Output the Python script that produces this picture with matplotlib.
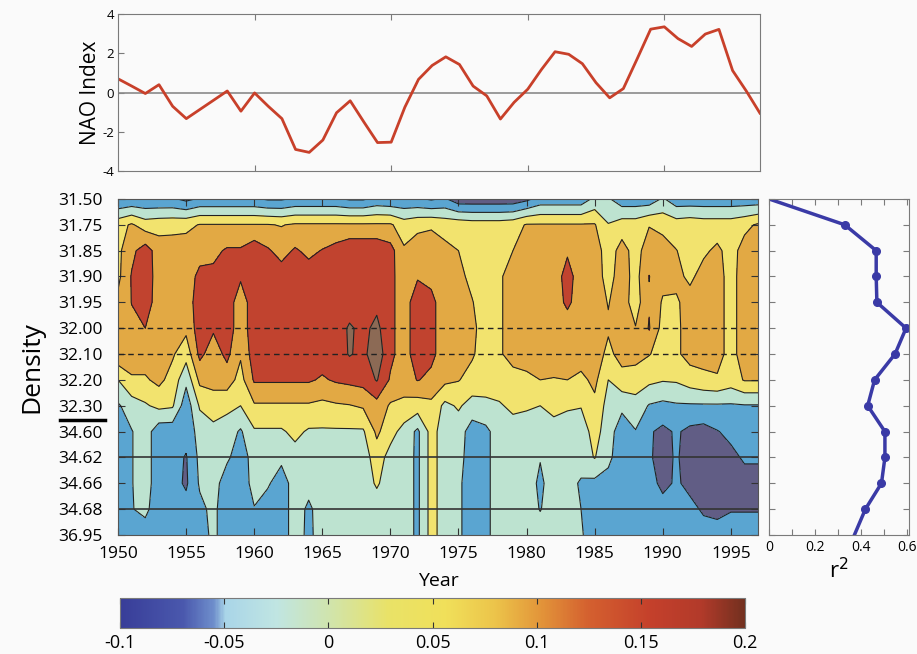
import numpy as np
import matplotlib
matplotlib.use("Agg")
import matplotlib.pyplot as plt
from matplotlib.colors import LinearSegmentedColormap, Normalize
from matplotlib.colorbar import ColorbarBase
import matplotlib.transforms as mtransforms

plt.rcParams['font.family'] = ['Open Sans', 'DejaVu Sans']
plt.rcParams['axes.unicode_minus'] = False

years = np.arange(1950, 1998)

# NAO index, one value per winter
nao = [0.7, 0.33, -0.05, 0.4, -0.7, -1.33, -0.86, -0.39, 0.08, -0.95,
       -0.02, -0.7, -1.33, -2.9, -3.05, -2.42, -1.03, -0.42, -1.5, -2.55,
       -2.53, -0.75, 0.67, 1.38, 1.82, 1.43, 0.33, -0.17, -1.35, -0.5,
       0.17, 1.17, 2.08, 1.95, 1.47, 0.5, -0.27, 0.2, 1.7, 3.23,
       3.35, 2.75, 2.35, 2.98, 3.22, 1.12, 0.08, -1.05]

density_labels = ['31.50', '31.75', '31.85', '31.90', '31.95', '32.00', '32.10',
                  '32.20', '32.30', '34.60', '34.62', '34.66', '34.68', '36.95']

# r^2 at each density level
r2 = [0.0, 0.33, 0.467, 0.467, 0.47, 0.597, 0.549, 0.46, 0.43, 0.505, 0.505, 0.49, 0.42, 0.372]

# correlation (x100), one list per year, top density level first
corr_by_year = [
    [-6, 4.5, 5, 5, 7, 8, 9, 2, -2.5, -4.5, -4.5, -4.5, -4.5, -4.5],            # 1950
    [-5.5, 6.5, 9, 10.3, 10.1, 9, 8, 5.5, 0, -2.2, -2.2, -2.2, -2.2, -2.2],     # 1951
    [-5.5, 4, 12, 12.5, 12, 10, 8, 5.5, 1.5, 0, 0, 0, -1, -4],                  # 1952
    [-5.5, 4.5, 8, 8, 8, 8, 8, 7, 3, -4.5, -4.5, -4.5, -4.5, -4.5],             # 1953
    [-5.5, 4.7, 8, 8, 8, 8, 6.5, 4.5, 2.5, -4.5, -4.5, -4.5, -4.5, -4.5],       # 1954
    [-7, 5, 8, 8, 8, 7, 3.5, -1, -4.5, -4.5, -6.3, -6.6, -4.5, -4.5],           # 1955
    [-5.5, 6.2, 8.5, 11, 12, 12, 11, 7, 2.5, -0.5, -1, -1.5, -3, -4],           # 1956
    [-5.5, 6.2, 9, 11, 11.5, 10.5, 8, 7, 4.5, 0.5, 0, 0, -1, -1],               # 1957
    [-5.5, 6.2, 10.5, 12, 12, 12, 11, 8, 3, 0, -1.2, -4.5, -4.5, -4.5],         # 1958
    [-5.5, 6.2, 10.5, 10.5, 8, 8, 6.5, 4.5, 2, -2.5, -4.5, -4.5, -4.5, -4.5],   # 1959
    [-5.5, 6.2, 12.5, 12, 12, 12, 12, 10.5, 5.5, 1.5, 0, -0.5, -2.2, -4.5],     # 1960
    [-6.5, 6.2, 10.5, 12, 12, 12, 12, 10.5, 5.5, 1.5, 0, -1.5, -4, -4.5],       # 1961
    [-6.5, 5.8, 8.5, 12, 12, 12, 12, 10.5, 5.5, 1.5, -1, -4.2, -4.2, -4.2],     # 1962
    [-5.5, 6.5, 10.5, 12, 12, 12, 12, 10.5, 5.5, 3, 0.5, 0, 0, 0],              # 1963
    [-5.5, 6.5, 9, 12, 12, 12, 12, 10.5, 5.5, 1.5, 0, -0.5, -2.8, -3],          # 1964
    [-5.5, 6.5, 10.2, 12, 12, 12, 12, 9.5, 5, 1.5, 0, 0, 0, 0],                 # 1965
    [-5.5, 6.5, 11.5, 12, 12, 12, 12, 10.5, 5.5, 1.5, 0, 0, 0, 0],              # 1966
    [-6.5, 6.5, 13, 12, 12, 14.5, 14.3, 11, 5.8, 1.5, 0, 0, 0, 0],              # 1967
    [-6.5, 6.5, 13, 12, 12, 13, 13, 11.5, 6.5, 1.5, 0, 0, 0, 0],                # 1968
    [-5, 6.5, 13, 12, 13, 15, 16.5, 14.3, 8.5, 6.8, 4, 2.5, 0, 0],              # 1969
    [-5.5, 6.5, 11.5, 11, 11, 11, 11, 9.5, 5.5, 3.5, 0.5, 0, 0, 0],             # 1970
    [-5.5, 4, 6.5, 8, 8, 8, 8, 8, 5, 0.5, 0, 0, 0, 0],                          # 1971
    [-5.5, 5, 8, 9.6, 12.5, 12.5, 12.5, 10.2, 4, -2.8, -2.8, -2.8, -2.8, -2.8], # 1972
    [-6.5, 5.5, 8, 9, 11, 11, 11, 9, 5, 3.5, 3.5, 3.5, 3.5, 3.5],               # 1973
    [-5.5, 4.5, 7, 8, 8, 8, 8, 7, 1, 0, 0, 0, 0, 0],                            # 1974
    [-8.5, 4.5, 6, 7, 7, 7, 7, 6.2, 2.5, 0, 0, -1, -1, -1],                     # 1975
    [-8.5, 4, 4.5, 5, 6.2, 7, 6.5, 4.5, 0.5, -4, -5, -5, -5, -5],               # 1976
    [-8.5, 4, 4, 4, 4, 4, 4, 4, 1, -3, -3, -3, -3, -3],                         # 1977
    [-8.5, 4, 4.5, 5.5, 5.5, 5.5, 5.5, 4.5, 1.5, 0, 0, 0, 0, 0],                # 1978
    [-8.5, 4.5, 6, 7.5, 7.5, 7.5, 7.5, 4.5, 3, 0, 0, 0, 0, 0],                  # 1979
    [-7, 6.3, 8, 8, 8, 8, 8, 5, 2.5, 0, 0, 0, 0, 0],                            # 1980
    [-4.5, 6.3, 8, 8, 8, 8, 8, 6, 2, 0, -1.8, -2.8, -2.2, 0],                   # 1981
    [-4.5, 6.3, 8, 8, 8, 8, 8, 5.8, 3.5, 0, 0, 0, 0, 0],                        # 1982
    [-4.5, 6.3, 9.5, 11.5, 10.8, 8, 8, 6, 2.5, 0, 0, -0.5, 0, 0],               # 1983
    [-4.5, 6.3, 8, 8, 8, 8, 8, 5, 2.2, 0, 0, -2.5, -2, -1.5],                   # 1984
    [-1, 6.3, 8, 8, 8, 8, 8, 7, 5, 3.5, 2.2, -3, -4.5, -4.5],                   # 1985
    [-1.5, 2.2, 4, 4.5, 5.8, 6.5, 5, 2, 0.5, 0, -1, -3.5, -4.5, -4.5],          # 1986
    [-4.5, 4, 7.5, 8, 8, 8, 7.5, 4.5, -1, -4.5, -4.5, -4.5, -4.5, -4.5],        # 1987
    [-4.5, 4, 4.5, 4.5, 4, 6.2, 7.5, 4, 0.5, -2.2, -4.5, -5.5, -4.5, -4.5],     # 1988
    [-4.5, 5.8, 8, 10.1, 9.6, 10.3, 6.2, 3, -2.3, -5.5, -5.5, -4.5, -4.5, -4.5],# 1989
    [-1.5, 5, 7.5, 7.5, 5.5, 4.5, 4.5, 2.3, -3, -7, -7.5, -7, -4.5, -4.5],      # 1990
    [-4.5, 4, 6.1, 7, 5.5, 5.3, 5.3, 2.5, -2.5, -5.5, -5.5, -5.5, -4.5, -4.5],  # 1991
    [-4.5, 4.5, 4.5, 5.2, 7.5, 7.5, 7.5, 4, -2.5, -7, -8, -7, -5, -4.5],        # 1992
    [-4.5, 4, 5.3, 7.5, 7.5, 7.5, 7.5, 5, -2.5, -7.5, -8.5, -8.5, -6.5, -4.5],  # 1993
    [-4.5, 4, 6.8, 7.5, 7.5, 7.5, 7.5, 5.5, -2.5, -6.2, -8.5, -8.5, -7, -4.5],  # 1994
    [-4.5, 4, 4.5, 4.5, 4.5, 4.5, 4.5, 4, -2.5, -5, -7, -7.5, -6.2, -4.5],      # 1995
    [-4.5, 5, 7.5, 8, 8, 8, 8, 6.3, -2.3, -4.5, -5.5, -7.5, -6.2, -4.5],        # 1996
    [-4.5, 6.5, 8, 8, 8, 8, 8, 6.3, -2.3, -4.5, -5.5, -7.5, -6.2, -4.5],        # 1997
]

levels = [-0.3, -0.06, -0.02, 0.02, 0.06, 0.10, 0.14, 0.4]
fill_colors = ['#615d85', '#5aa5d1', '#bde3d0', '#f2e36e', '#e2a944', '#c1432f', '#8c6a55']

cbar_colors = [(0.0, '#383d98'), (0.1, '#4a58ad'), (0.15, '#6f8fcc'), (0.168, '#a9d5e8'),
               (0.25, '#c0e5e2'), (0.33, '#cfe4b0'), (0.43, '#e9e267'), (0.52, '#f0e05a'),
               (0.6, '#ecc44a'), (0.67, '#e3973a'), (0.75, '#d4602f'), (0.85, '#c4402b'),
               (0.93, '#b23a2a'), (1.0, '#72301f')]

corr = np.array(corr_by_year).T / 100.0
rows = np.arange(len(density_labels))

fig = plt.figure(figsize=(9.17, 6.54), dpi=100)
fig.patch.set_facecolor('#fafafa')

gray = '#7a7a7a'

# --- NAO panel ---
ax_t = fig.add_axes([0.1287, 0.7385, 0.700, 0.240])
ax_t.set_facecolor('#fafafa')
ax_t.axhline(0, color='#8a8a8a', lw=1.2)
ax_t.plot(years, nao, color='#c8402a', lw=2)
ax_t.set_xlim(1950, 1997)
ax_t.set_ylim(-4, 4)
ax_t.set_yticks([-4, -2, 0, 2, 4])
ax_t.set_xticks([1960, 1970, 1980, 1990])
ax_t.set_xticklabels([])
ax_t.tick_params(direction='in', labelsize=9.5, top=True, length=4, color=gray, pad=3)
ax_t.set_ylabel('NAO Index', fontsize=15, labelpad=1)
for s in ax_t.spines.values():
    s.set_color(gray)

# --- contour panel ---
ax = fig.add_axes([0.1287, 0.182, 0.698, 0.5138])
ax.contourf(years, rows, corr, levels=levels, colors=fill_colors)
ax.contour(years, rows, corr, levels=levels[1:-1], colors='#222222', linewidths=0.8,
           negative_linestyles='solid')
ax.axhline(5, color='#222222', lw=1, ls=(0, (4, 3)))
ax.axhline(6, color='#222222', lw=1, ls=(0, (4, 3)))
ax.axhline(10, color='#333333', lw=1.2)
ax.axhline(12, color='#333333', lw=1.2)
ax.set_xlim(1950, 1997)
ax.set_ylim(13, 0)
ax.set_yticks(rows)
ax.set_yticklabels(density_labels)
ax.set_xticks(np.arange(1950, 1996, 5))
ax.tick_params(direction='in', labelsize=12.5, top=True, right=True, length=5, color='#333333')
ax.tick_params(axis='y', pad=11)
ax.tick_params(axis='x', pad=8)
ax.set_xlabel('Year', fontsize=14, labelpad=7)
ax.set_ylabel('Density', fontsize=19, labelpad=10)
for s in ax.spines.values():
    s.set_color('#555555')
# short bar under the 32.30 label
trans = mtransforms.blended_transform_factory(ax.transAxes, ax.transData)
ax.plot([-0.091, -0.02], [8.55, 8.55], color='k', lw=2.5, transform=trans, clip_on=False)

# --- r^2 panel ---
ax_r = fig.add_axes([0.8386, 0.182, 0.1527, 0.5138])
ax_r.set_facecolor('#fafafa')
ax_r.plot(r2, rows, color='#3a3aa6', lw=2.5)
ax_r.plot(r2[1:-1], rows[1:-1], 'o', color='#3a3aa6', ms=5.5)
ax_r.set_ylim(13, 0)
ax_r.set_xlim(0, 0.61)
ax_r.set_yticks(rows)
ax_r.set_yticklabels([])
ax_r.set_xticks([0, 0.1, 0.2, 0.3, 0.4, 0.5, 0.6])
ax_r.set_xticklabels(['0', '', '0.2', '', '0.4', '', '0.6'])
ax_r.tick_params(direction='in', labelsize=10, top=True, right=True, length=4, color=gray)
ax_r.set_xlabel('r$^2$', fontsize=16, labelpad=2)
for s in ax_r.spines.values():
    s.set_color(gray)

# --- colorbar ---
cax = fig.add_axes([0.1309, 0.0398, 0.6816, 0.0459])
cmap = LinearSegmentedColormap.from_list('corr', cbar_colors, N=512)
cb = ColorbarBase(cax, cmap=cmap, norm=Normalize(-0.1, 0.2), orientation='horizontal')
cb.set_ticks([-0.1, -0.05, 0, 0.05, 0.1, 0.15, 0.2])
cb.set_ticklabels(['-0.1', '-0.05', '0', '0.05', '0.1', '0.15', '0.2'])
cax.tick_params(direction='in', labelsize=13, top=True, length=4, color='#333333', pad=4)
cb.outline.set_edgecolor(gray)

fig.savefig('out.png', dpi=100, facecolor=fig.get_facecolor())
